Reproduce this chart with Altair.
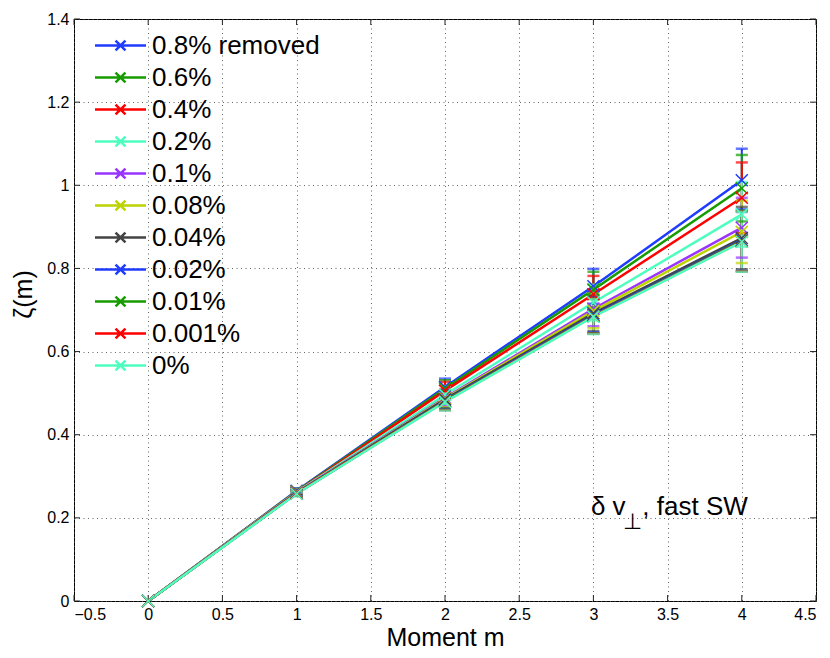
import altair as alt
import pandas as pd

moments = [0, 1, 2, 3, 4]
series = ["0.8% removed", "0.6%", "0.4%", "0.2%", "0.1%", "0.08%", "0.04%",
          "0.02%", "0.01%", "0.001%", "0%"]
colors = ["#1f3cff", "#169c00", "#ff0000", "#4dffbf", "#9933ff", "#bcd400",
          "#444444", "#1f3cff", "#169c00", "#ff0000", "#4dffbf"]

zeta = [
    [0, 0.265, 0.515, 0.757, 1.012],
    [0, 0.264, 0.511, 0.749, 0.993],
    [0, 0.263, 0.506, 0.738, 0.970],
    [0, 0.262, 0.496, 0.718, 0.930],
    [0, 0.261, 0.489, 0.703, 0.898],
    [0, 0.260, 0.487, 0.698, 0.888],
    [0, 0.260, 0.485, 0.692, 0.873],
    [0, 0.259, 0.482, 0.688, 0.868],
    [0, 0.259, 0.481, 0.686, 0.866],
    [0, 0.259, 0.480, 0.685, 0.865],
    [0, 0.258, 0.479, 0.684, 0.864],
]
err = [
    [0, 0.006, 0.020, 0.042, 0.076],
    [0, 0.006, 0.020, 0.043, 0.080],
    [0, 0.006, 0.021, 0.044, 0.085],
    [0, 0.006, 0.021, 0.043, 0.078],
    [0, 0.006, 0.020, 0.042, 0.072],
    [0, 0.006, 0.021, 0.042, 0.075],
    [0, 0.006, 0.021, 0.043, 0.075],
    [0, 0.006, 0.021, 0.042, 0.074],
    [0, 0.006, 0.021, 0.042, 0.073],
    [0, 0.006, 0.021, 0.042, 0.072],
    [0, 0.006, 0.021, 0.042, 0.072],
]

x_ticks = [-0.5, 0, 0.5, 1, 1.5, 2, 2.5, 3, 3.5, 4, 4.5]
y_ticks = [0, 0.2, 0.4, 0.6, 0.8, 1.0, 1.2, 1.4]

rows = []
for i, s in enumerate(series):
    for j, m in enumerate(moments):
        rows.append({"series": s, "idx": i, "m": m, "zeta": zeta[i][j],
                     "lo": zeta[i][j] - err[i][j], "hi": zeta[i][j] + err[i][j]})
df = pd.DataFrame(rows)
df_err = df[df["m"] > 0]

W, H = 742, 582
FONT = "Liberation Sans"
XPATH = "M-1,-1L1,1M-1,1L1,-1"
LEGPATH = "M-1.7,0H1.7M-0.33,-0.33L0.33,0.33M-0.33,0.33L0.33,-0.33"

xs = alt.Scale(domain=[-0.5, 4.5], nice=False)
ys = alt.Scale(domain=[0, 1.4], nice=False)
cs = alt.Scale(domain=series, range=colors)

xaxis = alt.Axis(values=x_ticks, title="Moment m", format="~g",
                 titleY=44, titleBaseline="alphabetic")
yaxis = alt.Axis(values=y_ticks, title="ζ(m)", format="~g", titleY=275)

base = alt.Chart(df)

lines = base.mark_line(strokeWidth=2.5).encode(
    x=alt.X("m:Q", scale=xs, axis=xaxis),
    y=alt.Y("zeta:Q", scale=ys, axis=yaxis),
    color=alt.Color("series:N", scale=cs, sort=series,
                    legend=alt.Legend(title=None, orient="none", legendX=30, legendY=10)),
    detail="series:N",
    order="m:Q",
)

rules = alt.Chart(df_err).mark_rule(strokeWidth=2).encode(
    x="m:Q", y="lo:Q", y2="hi:Q",
    color=alt.Color("series:N", scale=cs, sort=series),
)
caps_lo = alt.Chart(df_err).mark_tick(orient="horizontal", size=12, thickness=2.5).encode(
    x="m:Q", y="lo:Q", color=alt.Color("series:N", scale=cs, sort=series),
)
caps_hi = alt.Chart(df_err).mark_tick(orient="horizontal", size=12, thickness=2.5).encode(
    x="m:Q", y="hi:Q", color=alt.Color("series:N", scale=cs, sort=series),
)
points = base.mark_point(shape=XPATH, size=144, filled=False, strokeWidth=1.5, opacity=1).encode(
    x="m:Q", y="zeta:Q", color=alt.Color("series:N", scale=cs, sort=series),
)

# inward axis ticks (box style)
xt = pd.DataFrame({"v": x_ticks})
yt = pd.DataFrame({"v": y_ticks})
tick_b = alt.Chart(xt).mark_rule(color="#222", strokeWidth=1).encode(
    x="v:Q", y=alt.value(H), y2=alt.value(H - 6))
tick_t = alt.Chart(xt).mark_rule(color="#222", strokeWidth=1).encode(
    x="v:Q", y=alt.value(0), y2=alt.value(6))
tick_l = alt.Chart(yt).mark_rule(color="#222", strokeWidth=1).encode(
    y="v:Q", x=alt.value(0), x2=alt.value(6))
tick_r = alt.Chart(yt).mark_rule(color="#222", strokeWidth=1).encode(
    y="v:Q", x=alt.value(W), x2=alt.value(W - 6))

ann = pd.DataFrame({"x": [2.983, 3.20, 3.33], "y": [0.207, 0.172, 0.207],
                    "t": ["δ v", "⊥", ", fast SW"]})
ann_main = alt.Chart(ann[ann["t"] != "⊥"]).mark_text(
    align="left", baseline="alphabetic", fontSize=26, font=FONT, color="black").encode(
    x="x:Q", y="y:Q", text="t:N")
ann_sub = alt.Chart(ann[ann["t"] == "⊥"]).mark_text(
    align="left", baseline="alphabetic", fontSize=22, font="DejaVu Sans", color="black").encode(
    x="x:Q", y="y:Q", text="t:N")

chart = alt.layer(
    tick_b, tick_t, tick_l, tick_r,
    lines, rules, caps_lo, caps_hi, points, ann_main, ann_sub,
).properties(
    width=W, height=H,
    padding={"left": 66, "top": 11, "right": 6, "bottom": 49},
    autosize=alt.AutoSizeParams(type="none"),
).configure_view(
    stroke="#000", strokeWidth=1,
).configure_axis(
    domain=False, ticks=False,
    grid=True, gridColor="#555", gridDash=[1, 3.5], gridWidth=1, gridOpacity=0.9,
    labelFont=FONT, labelFontSize=16, labelColor="black",
    titleFont=FONT, titleFontSize=25, titleFontWeight="normal", titleColor="black",
).configure_axisX(
    labelPadding=5,
).configure_axisY(
    labelPadding=5, titlePadding=10,
).configure_legend(
    symbolType=LEGPATH, symbolSize=900, symbolStrokeWidth=2.5,
    symbolFillColor="transparent", symbolOpacity=1,
    labelFont=FONT, labelFontSize=26, labelColor="black", labelOffset=15,
    labelLimit=400, rowPadding=2, padding=0,
)

chart.save("out.html", embed_options={"renderer": "svg", "actions": False})
